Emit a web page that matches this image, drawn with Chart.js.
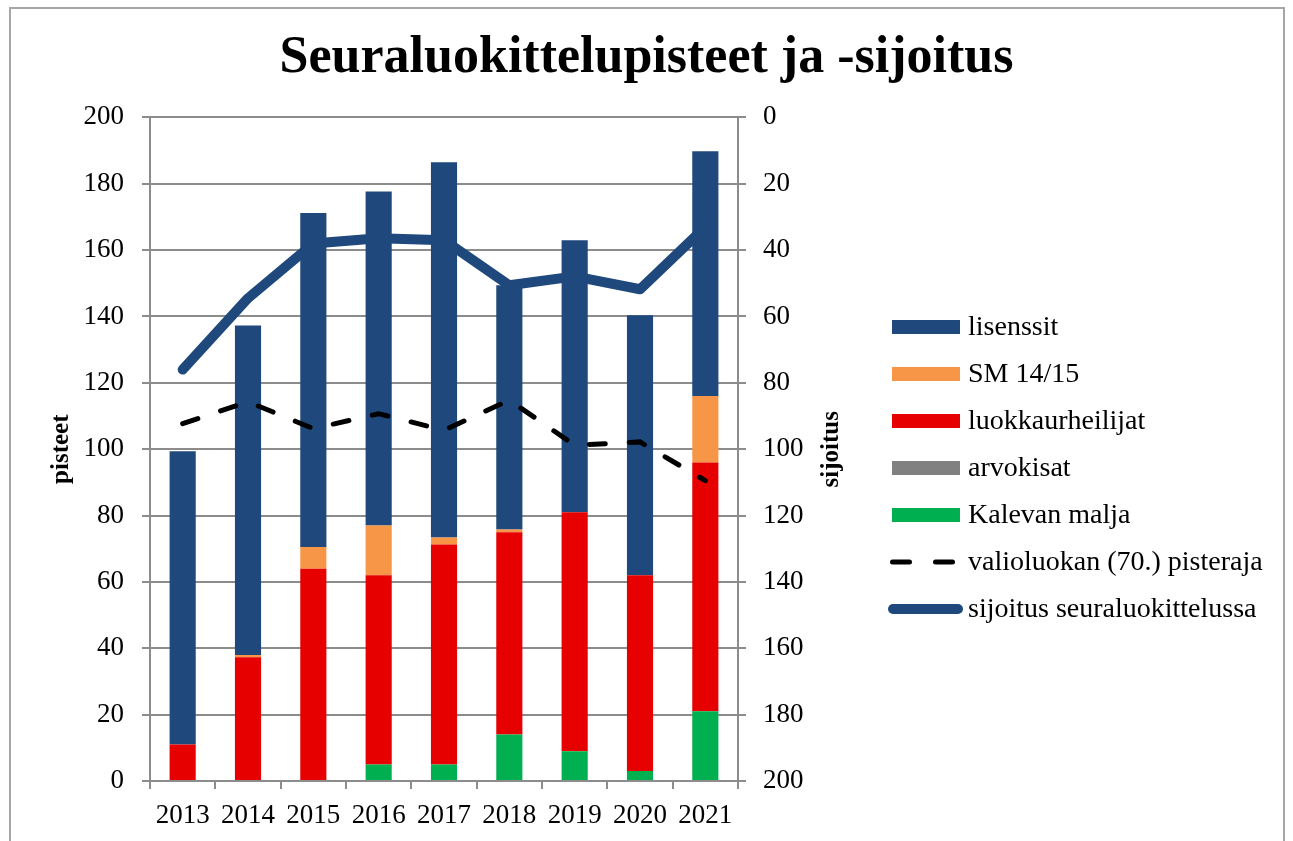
<!DOCTYPE html>
<html>
<head>
<meta charset="utf-8">
<script src="https://cdn.jsdelivr.net/npm/chart.js@4"></script>
<style>
  html, body { margin: 0; padding: 0; background: #fff; overflow: hidden; }
  #frame { position: absolute; left: 9px; top: 7px; width: 1276px; height: 860px; border: 2px solid #a6a6a6; box-sizing: border-box; }
  #wrap { position: absolute; left: 0; top: 0; width: 1293px; height: 841px; }
</style>
</head>
<body>
<div id="frame"></div>
<div id="wrap"><canvas id="chart"></canvas></div>
<script>
const years = ['2013', '2014', '2015', '2016', '2017', '2018', '2019', '2020', '2021'];
const kalevanMalja = [0, 0, 0, 5, 5, 14, 9, 3, 21];
const arvokisat = [0, 0, 0, 0, 0, 0, 0, 0, 0];
const luokkaurheilijat = [11, 37.3, 64, 57, 66.3, 61, 72, 59, 75];
const sm1415 = [0, 0.7, 6.5, 15, 2.1, 0.8, 0, 0, 20];
const lisenssit = [88.4, 99.3, 100.7, 100.7, 113.1, 73.6, 82, 78.4, 73.8];
const pisteraja = [107.7, 114.3, 106.2, 110.7, 105.7, 114.8, 101.2, 102.2, 90.5];
const sijoitus = [76, 54.5, 38, 36.4, 37, 50.6, 47.9, 51.8, 33];
const axisTicks = [0, 20, 40, 60, 80, 100, 120, 140, 160, 180, 200];

const serif = 'Liberation Serif';
const gridColor = '#8c8c8c';

// legend drawn at the right side, lisenssit first like in the original
const sideLegend = {
  id: 'sideLegend',
  afterDraw(chart) {
    const ctx = chart.ctx;
    const a = chart.chartArea;
    const x0 = a.right + 154;
    const order = [4, 3, 2, 1, 0, 5, 6];
    let y = 327;
    ctx.save();
    ctx.font = '28px "' + serif + '"';
    ctx.textBaseline = 'middle';
    order.forEach(i => {
      const ds = chart.data.datasets[i];
      if (ds.type === 'line') {
        ctx.strokeStyle = ds.borderColor;
        ctx.lineWidth = ds.borderWidth;
        ctx.lineCap = 'round';
        if (ds.borderDash) {
          ctx.setLineDash([17, 26]);
          ctx.beginPath();
          ctx.moveTo(x0 + 0.5, y);
          ctx.lineTo(x0 + 60.5, y);
        } else {
          ctx.setLineDash([]);
          ctx.beginPath();
          ctx.moveTo(x0 + 1, y);
          ctx.lineTo(x0 + 66, y);
        }
        ctx.stroke();
      } else {
        ctx.fillStyle = ds.backgroundColor;
        ctx.fillRect(x0, y - 7, 68, 14);
      }
      ctx.fillStyle = '#000';
      ctx.fillText(ds.label, x0 + 76, y + 1);
      y += 47;
    });
    ctx.restore();

    // right axis title reads bottom to top like the left one
    ctx.save();
    ctx.translate(a.right + 94, (a.top + a.bottom) / 2);
    ctx.rotate(-Math.PI / 2);
    ctx.font = 'bold 25px "' + serif + '"';
    ctx.fillStyle = '#000';
    ctx.textAlign = 'center';
    ctx.textBaseline = 'middle';
    ctx.fillText('sijoitus', 0, 0);
    ctx.restore();
  }
};

new Chart(document.getElementById('chart'), {
  data: {
    labels: years,
    datasets: [
      { type: 'bar', label: 'Kalevan malja', data: kalevanMalja, backgroundColor: '#00B050', order: 2 },
      { type: 'bar', label: 'arvokisat', data: arvokisat, backgroundColor: '#808080', order: 2 },
      { type: 'bar', label: 'luokkaurheilijat', data: luokkaurheilijat, backgroundColor: '#E60000', order: 2 },
      { type: 'bar', label: 'SM 14/15', data: sm1415, backgroundColor: '#F79646', order: 2 },
      { type: 'bar', label: 'lisenssit', data: lisenssit, backgroundColor: '#1F497D', order: 2 },
      {
        type: 'line', label: 'valioluokan (70.) pisteraja', data: pisteraja,
        borderColor: '#000', borderWidth: 5, borderDash: [16, 24], borderCapStyle: 'round',
        pointRadius: 0, tension: 0, fill: false, yAxisID: 'y', order: 1
      },
      {
        type: 'line', label: 'sijoitus seuraluokittelussa', data: sijoitus,
        borderColor: '#1F497D', borderWidth: 10, borderCapStyle: 'round', borderJoinStyle: 'round',
        pointRadius: 0, tension: 0, fill: false, yAxisID: 'y1', order: 0
      }
    ]
  },
  options: {
    responsive: true,
    maintainAspectRatio: false,
    animation: false,
    datasets: { bar: { barPercentage: 0.4, categoryPercentage: 1 } },
    layout: { padding: { left: 0, right: 0, top: 0, bottom: 0 } },
    plugins: {
      legend: { display: false },
      tooltip: { enabled: false },
      title: {
        display: true,
        text: 'Seuraluokittelupisteet ja -sijoitus',
        color: '#000',
        font: { family: serif, size: 52, weight: 'bold' },
        padding: { top: 27, bottom: 28 }
      }
    },
    scales: {
      x: {
        stacked: true,
        grid: { offset: true, drawOnChartArea: false, color: gridColor, lineWidth: 2, tickLength: 8 },
        border: { color: gridColor, width: 2 },
        ticks: { color: '#000', font: { family: serif, size: 27 }, padding: 11 },
        afterFit(scale) { scale.height = 60; }
      },
      y: {
        stacked: true,
        min: 0,
        max: 200,
        afterBuildTicks(scale) { scale.ticks = axisTicks.map(v => ({ value: v })); },
        grid: { color: gridColor, lineWidth: 2, tickLength: 8 },
        border: { color: gridColor, width: 2 },
        ticks: { color: '#000', font: { family: serif, size: 27 }, padding: 18 },
        title: {
          display: true, text: 'pisteet', color: '#000',
          font: { family: serif, size: 25, weight: 'bold' },
          padding: { top: 47, bottom: 0 }
        },
        afterFit(scale) { scale.width = 150; }
      },
      y1: {
        position: 'right',
        reverse: true,
        min: 0,
        max: 200,
        afterBuildTicks(scale) { scale.ticks = axisTicks.map(v => ({ value: v })); },
        grid: { drawOnChartArea: false, color: gridColor, lineWidth: 2, tickLength: 8 },
        border: { color: gridColor, width: 2 },
        ticks: { color: '#000', font: { family: serif, size: 27 }, padding: 17 },
        // the axis box also holds the legend area
        afterFit(scale) { scale.width = 555; }
      }
    }
  },
  plugins: [sideLegend]
});
</script>
</body>
</html>
